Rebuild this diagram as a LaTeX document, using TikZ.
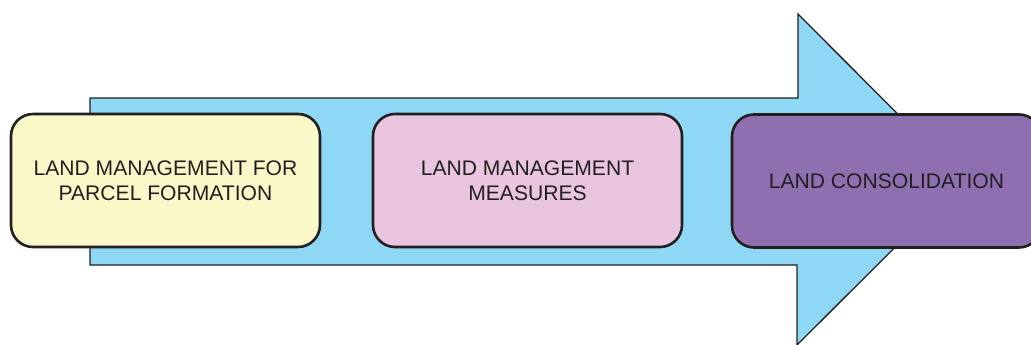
\documentclass[tikz,border=0pt]{standalone}
\usepackage{fontspec}
\setmainfont{Liberation Sans}
\definecolor{arrowblue}{HTML}{8ED8F5}
\definecolor{boxyellow}{HTML}{FAF8C8}
\definecolor{boxpink}{HTML}{E8C4DE}
\definecolor{boxpurple}{HTML}{8E70B0}
\definecolor{edgegrey}{HTML}{231F20}
\tikzset{
  stagebox/.style={draw=edgegrey, line width=2.6pt, rounded corners=22pt,
    minimum width=309pt, minimum height=133pt, align=center,
    text=edgegrey, font=\fontsize{21.1}{25}\selectfont},
}
\begin{document}
\begin{tikzpicture}[x=1pt,y=-1pt]
\useasboundingbox (0,0) rectangle (1031,345);
% the big arrow behind the stages
\draw[fill=arrowblue, draw=edgegrey, line width=1.3pt]
  (90,98) -- (798,98) -- (798,14) -- (963,179.5) -- (797,345)
  -- (797,265) -- (90,265) -- cycle;
\node[stagebox, fill=boxyellow] (parcel) at (165.5,180.5)
  {LAND MANAGEMENT FOR\\PARCEL FORMATION};
\node[stagebox, fill=boxpink] (measures) at (527.5,180.5)
  {LAND MANAGEMENT\\MEASURES};
\node[stagebox, fill=boxpurple] (consolidation) at (886.5,181)
  {LAND CONSOLIDATION};
\end{tikzpicture}
\end{document}
